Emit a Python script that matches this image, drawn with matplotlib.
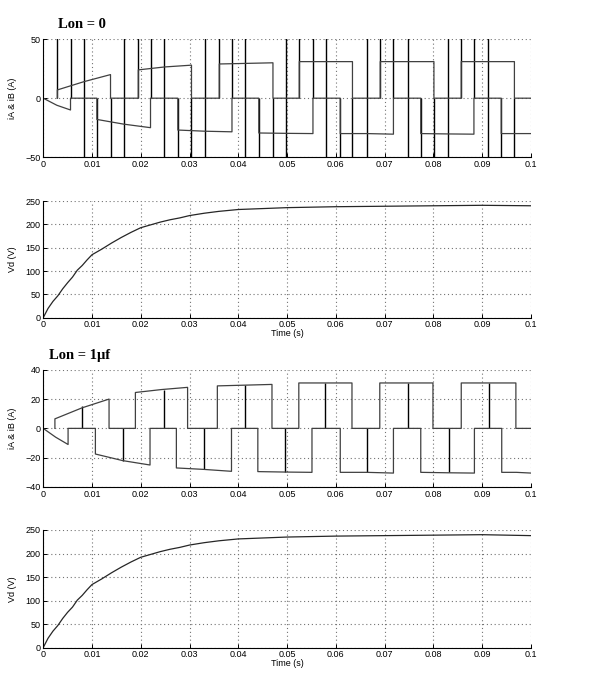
import numpy as np
import matplotlib
matplotlib.use('Agg')
import matplotlib.pyplot as plt

# ---- data ----
xticks = [0, 0.01, 0.02, 0.03, 0.04, 0.05, 0.06, 0.07, 0.08, 0.09, 0.1]
xticklabels = ['0', '0.01', '0.02', '0.03', '0.04', '0.05', '0.06', '0.07', '0.08', '0.09', '0.1']

# Lon = 0 : phase A (positive pulses)
a0_on = [0.0029, 0.0195, 0.0361, 0.0525, 0.0691, 0.0857]
a0_off = [0.0138, 0.0304, 0.0471, 0.0634, 0.0801, 0.0966]
a0_start = [7, 24, 29, 31, 31, 31]
a0_mid = [14, 26.5, 29.5, 31, 31, 31]
a0_end = [20, 28, 30, 31, 31, 31]
# Lon = 0 : phase B (negative pulses), first one starts at t=0
b0_on = [0.0, 0.0110, 0.0276, 0.0442, 0.0609, 0.0774, 0.0939]
b0_off = [0.0056, 0.0220, 0.0387, 0.0553, 0.0718, 0.0883, 0.1]
b0_start = [0, -18, -27, -29.5, -30, -30, -30]
b0_mid = [-6, -22, -28, -29.8, -30, -30.3, -30]
b0_end = [-10, -25, -28.5, -30, -30.5, -30.5, -30]
# Lon = 0 : switching spikes (U = up, D = down, B = both ways)
spk0_t = [0.0029, 0.0056, 0.0084, 0.0110, 0.0138, 0.0165, 0.0195, 0.0220, 0.0248,
          0.0276, 0.0304, 0.0331, 0.0361, 0.0387, 0.0414, 0.0442, 0.0471, 0.0498,
          0.0525, 0.0553, 0.0580, 0.0609, 0.0634, 0.0663, 0.0691, 0.0718, 0.0747,
          0.0774, 0.0801, 0.0829, 0.0857, 0.0883, 0.0912, 0.0939, 0.0966]
spk0_kind = ['U', 'U', 'B', 'D', 'D', 'B'] * 5 + ['U', 'U', 'B', 'D', 'D']

# Lon = 1uf
a1_on = [0.0024, 0.0189, 0.0357, 0.0524, 0.0690, 0.0857]
a1_off = [0.0135, 0.0296, 0.0469, 0.0633, 0.0799, 0.0969]
a1_start = [6.5, 24.5, 29, 31, 31, 31]
a1_mid = [14, 26.5, 29.5, 31, 31, 31]
a1_end = [20, 28, 30, 31, 31, 31]
b1_on = [0.0, 0.0107, 0.0273, 0.0440, 0.0609, 0.0774, 0.0940]
b1_off = [0.0051, 0.0219, 0.0386, 0.0551, 0.0718, 0.0884, 0.1]
b1_start = [0, -17.5, -27, -29.5, -30, -30, -30]
b1_mid = [-6, -22, -28, -29.8, -30, -30.3, -30]
b1_end = [-11, -25, -29.3, -30, -30.5, -30.5, -30.5]
spk1_t = [0.0080, 0.0163, 0.0247, 0.0329, 0.0413, 0.0495, 0.0578, 0.0663, 0.0747, 0.0831, 0.0913]
spk1_v = [15, -22, 26, -28, 29.5, -30, 31, -30, 31, -30, 31]

# DC voltage
vd_t = [0, 0.001, 0.002, 0.003, 0.004, 0.005, 0.006, 0.007, 0.008, 0.009, 0.010,
        0.012, 0.014, 0.016, 0.018, 0.020, 0.022, 0.024, 0.026, 0.028, 0.030,
        0.033, 0.036, 0.040, 0.045, 0.050, 0.055, 0.060, 0.070, 0.080, 0.090, 0.100]
vd0 = [0, 20, 35, 47, 62, 75, 87, 102, 112, 124, 135, 147, 160, 172, 183, 193,
       199, 205, 210, 214, 219, 224, 228, 232, 234, 236, 237, 238, 239, 240, 241, 240]
vd1 = [0, 20, 35, 47, 62, 75, 86, 101, 111, 123, 134, 146, 159, 171, 182, 192,
       198, 204, 209, 213, 218, 223, 227, 231, 233, 235, 236, 237, 238, 239, 240, 238]


def pulse_trace(on, off, start, mid, end):
    xs, ys = [], []
    for t1, t2, s, m, e in zip(on, off, start, mid, end):
        xs += [t1, t1, (t1 + t2) / 2, t2]
        ys += [0, s, m, e]
        if t2 < 0.1:
            xs.append(t2)
            ys.append(0)
    if xs[-1] < 0.1:
        xs.append(0.1)
        ys.append(0)
    return xs, ys


def style(ax, ylim, yticks, ylabel, xlabel=False):
    ax.set_xlim(0, 0.1)
    ax.set_ylim(*ylim)
    ax.set_xticks(xticks)
    ax.set_xticklabels(xticklabels)
    ax.set_yticks(yticks)
    ax.grid(True, color='0.45', linestyle=(0, (1, 2.5)), linewidth=0.8)
    ax.spines['top'].set_visible(False)
    ax.spines['right'].set_visible(False)
    ax.tick_params(direction='in', length=3, width=0.7, labelsize=6.5, pad=2)
    for lab in ax.get_xticklabels() + ax.get_yticklabels():
        lab.set_family('Liberation Sans')
    ax.set_ylabel(ylabel, fontsize=6.5, family='Liberation Sans')
    ax.yaxis.set_label_coords(-0.054, 0.5)
    if xlabel:
        ax.set_xlabel('Time (s)', fontsize=6.5, family='Liberation Sans', labelpad=0)


fig = plt.figure(figsize=(6, 6.76), dpi=100)
L, W = 0.072, 0.813
ax1 = fig.add_axes([L, 0.7675, W, 0.1745])
ax2 = fig.add_axes([L, 0.530, W, 0.1725])
ax3 = fig.add_axes([L, 0.2796, W, 0.1734])
ax4 = fig.add_axes([L, 0.0420, W, 0.1740])

big = 60
for t, k in zip(spk0_t, spk0_kind):
    lo = -big if k in 'DB' else 0
    hi = big if k in 'UB' else 0
    ax1.vlines(t, lo, hi, color='k', linewidth=1.0)
x, y = pulse_trace(a0_on, a0_off, a0_start, a0_mid, a0_end)
ax1.plot(x, y, color='0.25', linewidth=0.9)
x, y = pulse_trace(b0_on, b0_off, b0_start, b0_mid, b0_end)
ax1.plot(x, y, color='0.25', linewidth=0.9)
style(ax1, (-50, 50), [-50, 0, 50], 'iA & iB (A)')

ax2.plot(vd_t, vd0, color='0.15', linewidth=0.9)
style(ax2, (0, 250), [0, 50, 100, 150, 200, 250], 'Vd (V)', xlabel=True)

ax3.vlines(spk1_t, 0, spk1_v, color='k', linewidth=1.0)
x, y = pulse_trace(a1_on, a1_off, a1_start, a1_mid, a1_end)
ax3.plot(x, y, color='0.25', linewidth=0.9)
x, y = pulse_trace(b1_on, b1_off, b1_start, b1_mid, b1_end)
ax3.plot(x, y, color='0.25', linewidth=0.9)
style(ax3, (-40, 40), [-40, -20, 0, 20, 40], 'iA & iB (A)')

ax4.plot(vd_t, vd1, color='0.15', linewidth=0.9)
style(ax4, (0, 250), [0, 50, 100, 150, 200, 250], 'Vd (V)', xlabel=True)

fig.text(58 / 600, 1 - 24 / 676, 'Lon = 0', fontsize=10.5, fontweight='bold',
         family='Liberation Serif', va='center', ha='left')
fig.text(49 / 600, 1 - 355 / 676, 'Lon = 1\u03bcf', fontsize=10.5, fontweight='bold',
         family='Liberation Serif', va='center', ha='left')

fig.savefig('out.png', dpi=100)
